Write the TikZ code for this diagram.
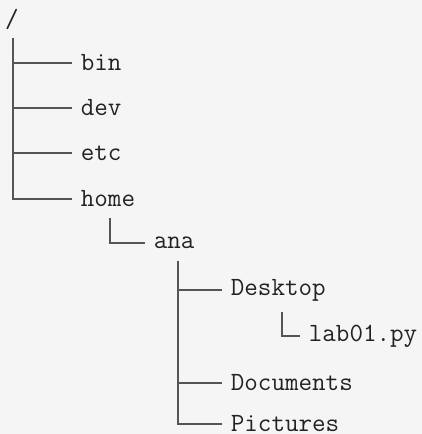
\documentclass[tikz,border=0pt]{standalone}
\usepackage{tikz}
\definecolor{bggray}{HTML}{F5F5F5}
\definecolor{linegray}{HTML}{555555}
\definecolor{textgray}{HTML}{222222}

\begin{document}
\begin{tikzpicture}[x=1pt,y=-1pt]
\tikzset{every node/.style={inner xsep=8.7pt,inner ysep=0pt,anchor=west,
  font=\fontsize{26.3}{30}\selectfont\ttfamily,text=textgray},
  branch/.style={linegray,line width=1.1pt}}
\fill [bggray] (0,0) rectangle (422,434);
\useasboundingbox (0,0) rectangle (422,434);
% entries
\node [anchor=center,inner sep=0pt] (root) at (12,19) {/};
\node (bin) at (72,63) {bin};
\node (dev) at (72,108) {dev};
\node (etc) at (72,153) {etc};
\node (home) at (72,199) {home};
\node (ana) at (145,243) {ana};
\node (desktop) at (222,290) {Desktop};
\node (lab) at (300,336) {lab01.py};
\node (documents) at (222,383) {Documents};
\node (pictures) at (222,424) {Pictures};
% trunks
\coordinate (t0) at (13,38);
\coordinate (t1) at (110,218);
\coordinate (t2) at (178,261);
\coordinate (t3) at (282,312);
% branches
\draw [branch] (t0 |- bin) -- (bin.west);
\draw [branch] (t0 |- dev) -- (dev.west);
\draw [branch] (t0 |- etc) -- (etc.west);
\draw [branch] (t0) |- (home.west);
\draw [branch] (t1) |- (ana.west);
\draw [branch] (t2 |- desktop) -- (desktop.west);
\draw [branch] (t2 |- documents) -- (documents.west);
\draw [branch] (t2) |- (pictures.west);
\draw [branch] (t3) |- (lab.west);
\end{tikzpicture}
\end{document}
